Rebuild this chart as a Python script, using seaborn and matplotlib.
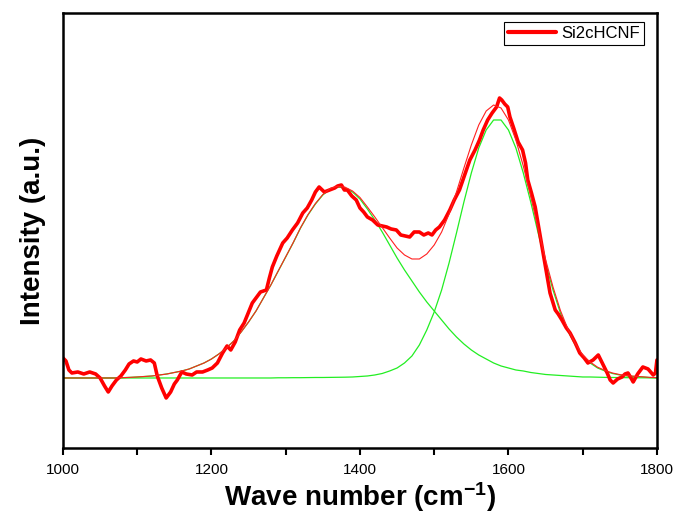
"""
Raman spectrum of Si2cHCNF with the two fitted bands (D and G).
"""

import numpy as np
import pandas as pd
import matplotlib
matplotlib.use('Agg')
import matplotlib.pyplot as plt
from matplotlib.ticker import MultipleLocator
import seaborn as sns


SPEC_WAVE = [
    1000, 1004, 1008, 1012, 1020, 1028, 1036, 1044, 1050, 1056, 1061, 1066,
    1072, 1078, 1084, 1089, 1095, 1100, 1105, 1112, 1118, 1123, 1127, 1133,
    1139, 1145, 1150, 1154, 1160, 1166, 1174, 1180, 1188, 1195, 1201, 1208,
    1215, 1221, 1226, 1232, 1238, 1244, 1249, 1255, 1260, 1266, 1274, 1278,
    1282, 1288, 1296, 1302, 1309, 1316, 1323, 1329, 1335, 1340, 1345, 1352,
    1359, 1366, 1370, 1375, 1379, 1383, 1389, 1395, 1400, 1405, 1410, 1417,
    1424, 1430, 1436, 1442, 1449, 1455, 1461, 1467, 1473, 1480, 1486, 1492,
    1497, 1502, 1507, 1514, 1521, 1527, 1534, 1541, 1548, 1555, 1561, 1566,
    1572, 1578, 1584, 1588, 1591, 1595, 1599, 1602, 1607, 1613, 1619, 1623,
    1626, 1631, 1636, 1642, 1649, 1653, 1656, 1663, 1667, 1672, 1678, 1683,
    1690, 1696, 1702, 1707, 1714, 1721, 1727, 1733, 1737, 1741, 1747, 1753,
    1757, 1761, 1765, 1768, 1774, 1781, 1788, 1795, 1798, 1800,
]
SPEC_INT = [
    20, 17, 8, 5, 6, 4, 6, 4, 0, -8, -14, -8,
    -2, 2, 8, 14, 17, 16, 19, 17, 18, 15, 2, -10,
    -20, -14, -6, -2, 6, 4, 3, 6, 6, 8, 10, 15,
    25, 32, 28, 36, 48, 55, 64, 75, 80, 86, 88, 100,
    111, 122, 135, 140, 148, 155, 165, 170, 178, 186, 191, 186,
    188, 190, 192, 193, 188, 188, 182, 178, 170, 166, 161, 158,
    153, 152, 151, 149, 148, 143, 142, 141, 146, 146, 143, 145,
    143, 148, 151, 158, 168, 178, 188, 203, 218, 228, 238, 248,
    258, 265, 271, 280, 278, 274, 271, 261, 250, 236, 228, 215,
    198, 185, 171, 145, 115, 98, 85, 68, 64, 58, 50, 45,
    35, 25, 20, 15, 18, 23, 14, 5, -2, -5, -1, 1,
    4, 5, 0, -4, 4, 11, 9, 3, 5, 18,
]

# fitted bands, sampled every 10 cm-1 from 1000 to 1800
FIT_WAVE = list(range(1000, 1810, 10))
BAND_D = [
    0, 0, 0, 0, 0, 0, 0, 0, 0.3, 0.6,
    1, 1.5, 2, 3, 4, 5.5, 7, 9, 12, 15,
    19, 24, 30, 37, 46, 56, 67, 80, 93, 107,
    121, 135, 150, 163, 174, 183, 189, 191, 190, 186,
    179, 169, 158, 146, 133, 120, 108, 97, 86, 76,
    67, 58, 49, 41, 34, 28, 23, 19, 15, 12,
    10, 8, 7, 5.5, 4.5, 3.5, 3, 2.5, 2, 1.5,
    1, 1, 0.8, 0.6, 0.5, 0.4, 0.3, 0.2, 0.2, 0.1,
    0,
]
BAND_G = [
    0, 0, 0, 0, 0, 0, 0, 0, 0, 0,
    0, 0, 0, 0, 0, 0, 0, 0, 0, 0,
    0, 0, 0, 0, 0, 0, 0, 0, 0, 0.2,
    0.2, 0.3, 0.3, 0.4, 0.5, 0.5, 0.6, 0.7, 0.8, 1,
    1.5, 2, 3, 4.5, 7, 10, 15, 22, 33, 48,
    66, 88, 115, 145, 176, 205, 230, 248, 258, 258,
    248, 230, 205, 176, 145, 115, 88, 65, 47, 33,
    22, 15, 10, 7, 4.5, 3, 2, 1.5, 1, 0.5,
    0.3,
]

sns.set_theme(style='white')
plt.rcParams['font.family'] = ['Liberation Sans', 'DejaVu Sans']
plt.rcParams['mathtext.default'] = 'regular'
plt.rcParams['text.color'] = 'black'
plt.rcParams['axes.labelcolor'] = 'black'
plt.rcParams['xtick.color'] = 'black'

spec = pd.DataFrame({'wave': SPEC_WAVE, 'intensity': SPEC_INT})
fit = pd.DataFrame({'wave': FIT_WAVE, 'D': BAND_D, 'G': BAND_G})
fit['total'] = fit['D'] + fit['G']

fig = plt.figure(figsize=(6.8, 5.2), dpi=100)
ax = fig.add_axes([0.0926, 0.1385, 0.8735, 0.8365])

for band in ['D', 'G']:
    sns.lineplot(data=fit, x='wave', y=band, ax=ax, color='#22ee22',
                 linewidth=0.9)
sns.lineplot(data=spec, x='wave', y='intensity', ax=ax, color='#ff0000',
             linewidth=2.6, label='Si2cHCNF', sort=False)
sns.lineplot(data=fit, x='wave', y='total', ax=ax, color='#ff2020',
             linewidth=0.8)

ax.set_xlim(1000, 1800)
ax.set_ylim(-70, 365)
ax.xaxis.set_major_locator(MultipleLocator(200))
ax.xaxis.set_minor_locator(MultipleLocator(100))
ax.set_yticks([])
ax.tick_params(axis='x', which='both', direction='out', bottom=True,
               length=5, width=1.5, color='black', labelsize=11, pad=6)

for s in ax.spines.values():
    s.set_visible(True)
    s.set_color('black')
    s.set_linewidth(1.8)

ax.set_xlabel('Wave number (cm$^{-1}$)', fontsize=20, fontweight='bold',
              labelpad=2)
ax.set_ylabel('Intensity (a.u.)', fontsize=20, fontweight='bold', labelpad=12)

leg = ax.legend(loc='upper right', bbox_to_anchor=(0.978, 0.979),
                borderaxespad=0, fontsize=12, handlelength=2.9,
                fancybox=False, framealpha=1, borderpad=0.25,
                handletextpad=0.3)
leg.get_frame().set_edgecolor('black')
leg.get_frame().set_linewidth(0.8)
for line in leg.get_lines():
    line.set_linewidth(3)

plt.savefig('out.png', dpi=100)
